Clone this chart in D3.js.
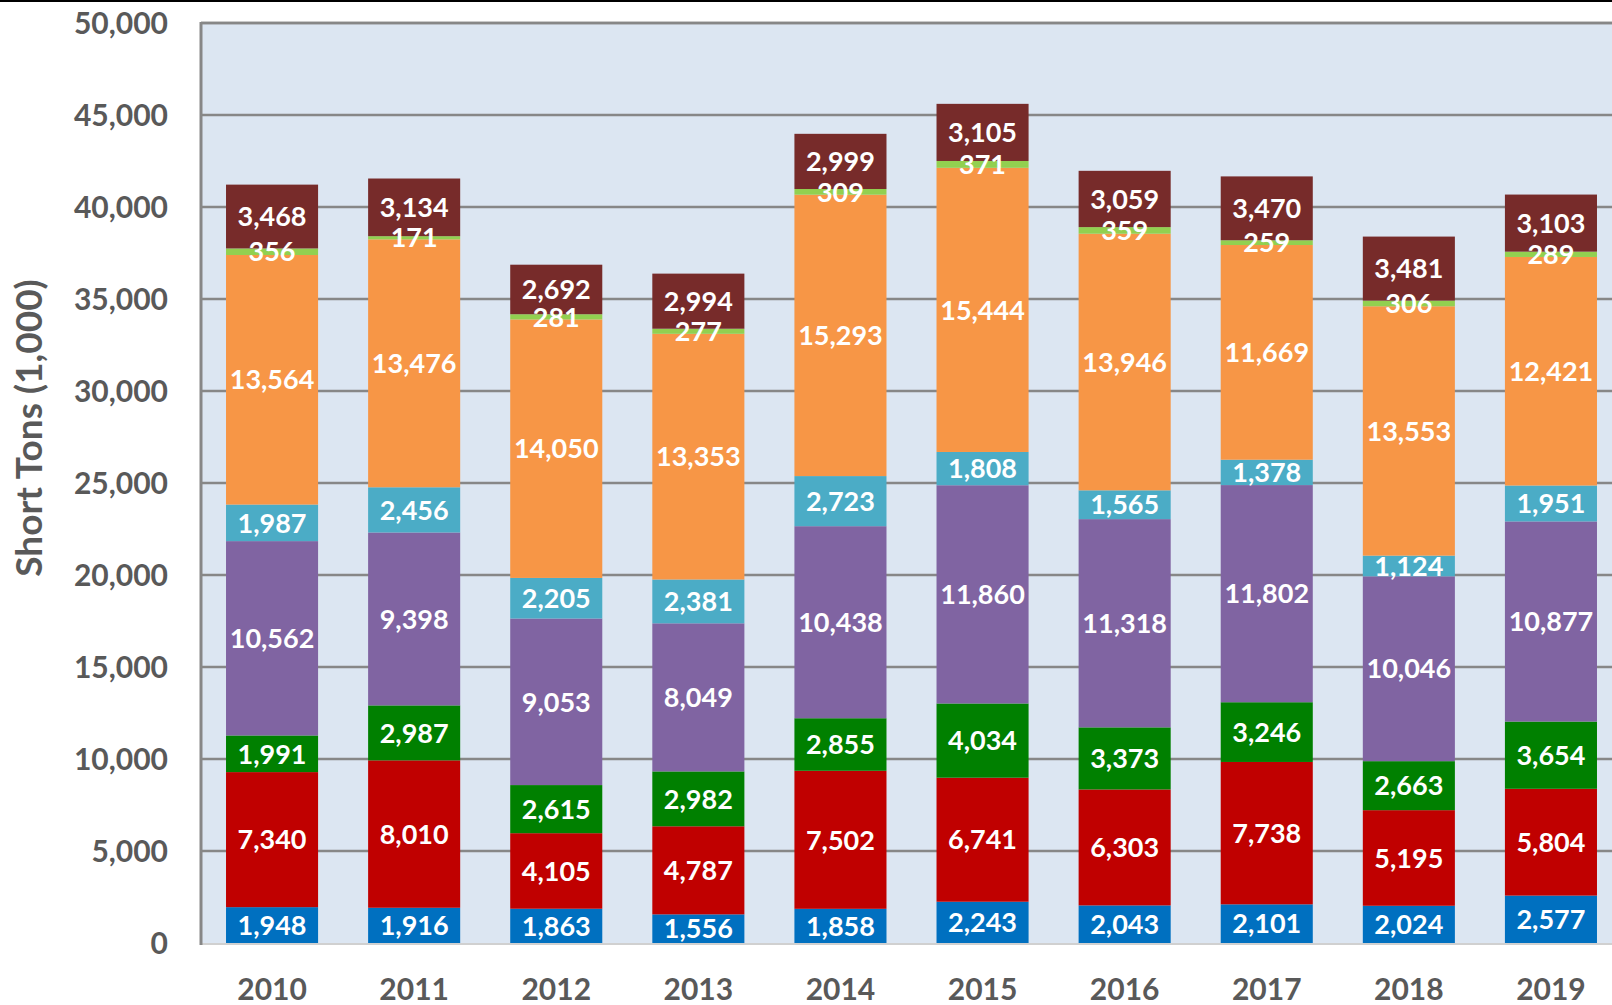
<!DOCTYPE html>
<html>
<head>
<meta charset="utf-8">
<script src="https://cdn.jsdelivr.net/npm/d3@7"></script>
<style>
  body { margin: 0; background: #fff; }
  svg { display: block; }
</style>
</head>
<body>
<svg id="chart"></svg>
<script>
// Data, bottom segment first
const years = ['2010', '2011', '2012', '2013', '2014', '2015', '2016', '2017', '2018', '2019'];
const seriesBlue      = [1948, 1916, 1863, 1556, 1858, 2243, 2043, 2101, 2024, 2577];
const seriesRed       = [7340, 8010, 4105, 4787, 7502, 6741, 6303, 7738, 5195, 5804];
const seriesGreen     = [1991, 2987, 2615, 2982, 2855, 4034, 3373, 3246, 2663, 3654];
const seriesPurple    = [10562, 9398, 9053, 8049, 10438, 11860, 11318, 11802, 10046, 10877];
const seriesLightBlue = [1987, 2456, 2205, 2381, 2723, 1808, 1565, 1378, 1124, 1951];
const seriesOrange    = [13564, 13476, 14050, 13353, 15293, 15444, 13946, 11669, 13553, 12421];
const seriesLime      = [356, 171, 281, 277, 309, 371, 359, 259, 306, 289];
const seriesMaroon    = [3468, 3134, 2692, 2994, 2999, 3105, 3059, 3470, 3481, 3103];
const yTicks = [0, 5000, 10000, 15000, 20000, 25000, 30000, 35000, 40000, 45000, 50000];

const seriesList = [seriesBlue, seriesRed, seriesGreen, seriesPurple, seriesLightBlue, seriesOrange, seriesLime, seriesMaroon];
const colors = ['#0070c0', '#c00000', '#008000', '#8064a2', '#4bacc6', '#f79646', '#92d050', '#772b2a'];

let width = 1612, height = 1005;
let margin = { top: 23, bottom: 62, left: 201 };
let plotRight = 1622; // the plot runs past the right edge of the picture

// build table for d3.stack
let table = years.map((y, i) => {
    let row = { year: y };
    seriesList.forEach((s, k) => row['s' + k] = s[i]);
    return row;
});
let keys = seriesList.map((s, k) => 's' + k);
let stacked = d3.stack().keys(keys)(table);

let svg = d3.select('#chart')
    .attr('width', width)
    .attr('height', height)
    .style('font-family', 'Lato, "Open Sans", sans-serif');

let xScale = d3.scaleBand()
    .domain(years)
    .range([margin.left, plotRight])
    .paddingInner(50 / 142)
    .paddingOuter(25 / 142);

let yScale = d3.scaleLinear()
    .domain([0, 50000])
    .range([height - margin.bottom, margin.top]);

// plot background
svg.append('rect')
    .attr('x', margin.left)
    .attr('y', margin.top)
    .attr('width', plotRight - margin.left)
    .attr('height', yScale(0) - margin.top)
    .attr('fill', '#dce6f2');

// grid lines
svg.append('g')
    .selectAll('line')
    .data(yTicks.filter(d => d > 0))
    .enter()
    .append('line')
    .attr('x1', margin.left)
    .attr('x2', plotRight)
    .attr('y1', d => yScale(d))
    .attr('y2', d => yScale(d))
    .attr('stroke', '#878787')
    .attr('stroke-width', 2.5);

// bars
let layer = svg.append('g')
    .selectAll('g')
    .data(stacked)
    .enter()
    .append('g')
    .attr('fill', (d, i) => colors[i]);

layer.selectAll('rect')
    .data(d => d)
    .enter()
    .append('rect')
    .attr('x', d => xScale(d.data.year))
    .attr('y', d => yScale(d[1]))
    .attr('width', xScale.bandwidth())
    .attr('height', d => yScale(d[0]) - yScale(d[1]));

// bottom axis line and left axis line
svg.append('line')
    .attr('x1', margin.left)
    .attr('x2', plotRight)
    .attr('y1', yScale(0) + 1)
    .attr('y2', yScale(0) + 1)
    .attr('stroke', '#d0d0d0')
    .attr('stroke-width', 2);

svg.append('line')
    .attr('x1', margin.left)
    .attr('x2', margin.left)
    .attr('y1', margin.top - 1)
    .attr('y2', yScale(0) + 2)
    .attr('stroke', '#878787')
    .attr('stroke-width', 3);

svg.append('line')
    .attr('x1', margin.left)
    .attr('x2', plotRight)
    .attr('y1', margin.top)
    .attr('y2', margin.top)
    .attr('stroke', '#878787')
    .attr('stroke-width', 2.5);

// data labels, drawn above all bars so thin segments stay readable
let labelGroups = svg.append('g')
    .selectAll('g')
    .data(stacked)
    .enter()
    .append('g');

labelGroups.selectAll('text')
    .data(d => d)
    .enter()
    .append('text')
    .attr('x', d => xScale(d.data.year) + xScale.bandwidth() / 2)
    .attr('y', d => yScale((d[0] + d[1]) / 2))
    .attr('dy', '0.36em')
    .attr('text-anchor', 'middle')
    .attr('fill', '#fff')
    .style('font-size', '27px')
    .style('font-weight', 'bold')
    .text(d => d3.format(',')(d[1] - d[0]));

// y tick labels
svg.append('g')
    .selectAll('text')
    .data(yTicks)
    .enter()
    .append('text')
    .attr('x', 168)
    .attr('y', d => yScale(d))
    .attr('dy', '0.36em')
    .attr('text-anchor', 'end')
    .attr('fill', '#595959')
    .style('font-size', '30px')
    .style('font-weight', 'bold')
    .text(d => d3.format(',')(d));

// x labels
svg.append('g')
    .selectAll('text')
    .data(years)
    .enter()
    .append('text')
    .attr('x', d => xScale(d) + xScale.bandwidth() / 2)
    .attr('y', 1000)
    .attr('text-anchor', 'middle')
    .attr('fill', '#595959')
    .style('font-size', '30px')
    .style('font-weight', 'bold')
    .text(d => d);

// y axis title
svg.append('text')
    .attr('transform', 'translate(29, 428) rotate(-90)')
    .attr('dy', '0.36em')
    .attr('text-anchor', 'middle')
    .attr('fill', '#595959')
    .style('font-size', '37px')
    .style('font-weight', 'bold')
    .text('Short Tons (1,000)');

// thin frame line across the top
svg.append('rect')
    .attr('x', 0)
    .attr('y', 0)
    .attr('width', width)
    .attr('height', 2)
    .attr('fill', '#000');
</script>
</body>
</html>
